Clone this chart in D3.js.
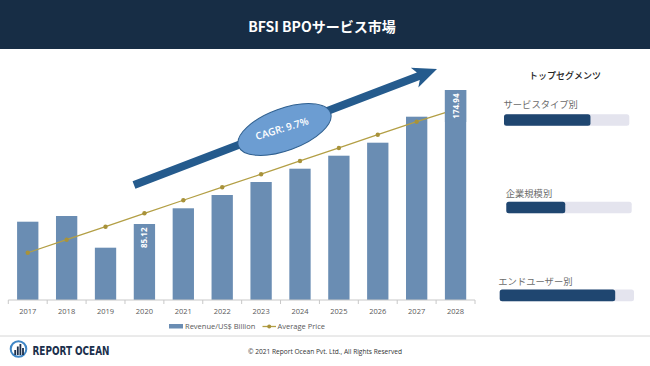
<!DOCTYPE html>
<html><head><meta charset="utf-8">
<script src="https://cdn.jsdelivr.net/npm/d3@7"></script>
<style>html,body{margin:0;padding:0;background:#fff;}svg{display:block;}</style>
</head><body>
<script>
// ---- data ----
const years = ['2017','2018','2019','2020','2021','2022','2023','2024','2025','2026','2027','2028'];
const revenue = [86.66, 90.48, 69.24, 85.12, 95.65, 104.56, 113.27, 122.19, 130.9, 139.62, 157.04, 174.94];
const avgPrice = [22.5, 28.7, 34.9, 41.3, 47.5, 53.7, 59.9, 66.2, 72.4, 78.7, 84.9, 90.8];
const labeledYears = ['2020', '2028'];
const legendLabels = ['Revenue/US$ Billion', 'Average Price'];
const segments = ['サービスタイプ別', '企業規模別', 'エンドユーザー別'];
const segmentShare = [0.69, 0.47, 0.86];
const titleText = 'BFSI BPOサービス市場';
const cagrText = 'CAGR: 9.7%';
const segTitle = 'トップセグメンツ';
const footerText = '© 2021 Report Ocean Pvt. Ltd., All Rights Reserved';
const brandText = 'REPORT OCEAN';

const W = 650, H = 366;
const svg = d3.select('body').append('svg').attr('width', W).attr('height', H);
const sans = "'Open Sans','Liberation Sans',sans-serif";
const cjk = "'Noto Sans CJK JP','Noto Sans',sans-serif";

// header
svg.append('rect').attr('x',0).attr('y',0).attr('width',W).attr('height',49).attr('fill','#172d45');
svg.append('text').attr('x',322).attr('y',32).attr('text-anchor','middle')
  .attr('fill','#fff').attr('font-family',cjk).attr('font-weight','bold').attr('font-size',14).text(titleText);

// scales
const x = d3.scaleBand().domain(years).range([8.3, 475]).paddingInner(0.452).paddingOuter(0.226);
const y = d3.scaleLinear().domain([34.18, 174.94]).range([300, 90]);
const yP = d3.scaleLinear().domain([0, 100]).range([300, 90]);

// bars
svg.append('g').selectAll('rect').data(years).join('rect')
  .attr('x', d => x(d)).attr('width', x.bandwidth())
  .attr('y', (d,i) => y(revenue[i])).attr('height', (d,i) => 300 - y(revenue[i]))
  .attr('fill', '#6a8db3');

// x axis
const axis = svg.append('g').attr('transform','translate(0,300)');
axis.append('line').attr('x1',8.3).attr('x2',475).attr('y1',0).attr('y2',0).attr('stroke','#c8c8c8');
const bounds = d3.range(years.length+1).map(i => 8.3 + i*x.step());
axis.selectAll('line.tk').data(bounds).join('line').attr('class','tk')
  .attr('x1', d=>d).attr('x2', d=>d).attr('y1',0).attr('y2',4).attr('stroke','#c8c8c8');
axis.selectAll('text').data(years).join('text')
  .attr('x', d => x(d)+x.bandwidth()/2).attr('y', 13.5).attr('text-anchor','middle')
  .attr('fill','#595959').attr('font-family',sans).attr('font-size',7.5).text(d=>d);

// arrow
const ax0 = 134, ay0 = 185, ax1 = 437, ay1 = 69;
const ang = Math.atan2(ay1-ay0, ax1-ax0)*180/Math.PI;
const L = Math.hypot(ax1-ax0, ay1-ay0);
svg.append('path').attr('transform',`translate(${ax0},${ay0}) rotate(${ang})`)
  .attr('d', `M0,-4 L${L-20},-4 L${L-24},-10.5 L${L},0 L${L-24},10.5 L${L-20},4 L0,4 Z`)
  .attr('fill','#255b8d');

// ellipse
svg.append('ellipse').attr('transform','translate(284.5,129.5) rotate(-20)')
  .attr('rx',49).attr('ry',21).attr('fill','#6c9dd2').attr('stroke','#2e5f8f').attr('stroke-width',1);
svg.append('text').attr('transform','translate(283,132) rotate(-17)').attr('text-anchor','middle')
  .attr('fill','#fff').attr('font-family',sans).attr('font-weight',600).attr('font-size',10).text(cagrText);

// line
const line = d3.line().x((d,i)=>x(years[i])+x.bandwidth()/2).y(d=>yP(d));
svg.append('path').datum(avgPrice).attr('d',line).attr('fill','none').attr('stroke','#b39f45').attr('stroke-width',1.3);
svg.append('g').selectAll('circle').data(avgPrice).join('circle')
  .attr('cx',(d,i)=>x(years[i])+x.bandwidth()/2).attr('cy',d=>yP(d)).attr('r',2.2).attr('fill','#a8923a');

// value labels (drawn on top)
const lblG = svg.append('g');
lblG.selectAll('rect').data(years.filter(d => labeledYears.includes(d) && d === '2028')).join('rect')
  .attr('x', d => x(d)).attr('width', x.bandwidth())
  .attr('y', d => y(revenue[years.indexOf(d)])).attr('height', 32).attr('fill','#6a8db3');
lblG.selectAll('text').data(years.filter(d => labeledYears.includes(d))).join('text')
  .attr('transform', d => { const i = years.indexOf(d); return `translate(${x(d)+x.bandwidth()/2+3},${y(revenue[i])+3.5}) rotate(-90)`; })
  .attr('text-anchor','end').attr('fill','#fff').attr('font-family',sans).attr('font-weight','bold').attr('font-size',8)
  .text(d => revenue[years.indexOf(d)].toFixed(2));

// legend
const lg = svg.append('g');
lg.append('rect').attr('x',169).attr('y',324).attr('width',14).attr('height',4.5).attr('fill','#6a8db3');
lg.append('text').attr('x',185).attr('y',329).attr('fill','#595959').attr('font-family',sans).attr('font-size',7.5).text(legendLabels[0]);
lg.append('line').attr('x1',262.5).attr('x2',276).attr('y1',326.5).attr('y2',326.5).attr('stroke','#b39f45').attr('stroke-width',1.3);
lg.append('circle').attr('cx',269.2).attr('cy',326.5).attr('r',2).attr('fill','#a8923a');
lg.append('text').attr('x',277.5).attr('y',329).attr('fill','#595959').attr('font-family',sans).attr('font-size',7.5).text(legendLabels[1]);

// right panel
svg.append('text').attr('x',565).attr('y',78.5).attr('text-anchor','middle').attr('fill','#222')
  .attr('font-family',cjk).attr('font-weight',500).attr('font-size',9).text(segTitle);
const segPos = [
  {lx:503.5, ly:108, bx:504, by:114.3, bw:125.3, bh:11.4},
  {lx:505.7, ly:197, bx:506.3, by:201.7, bw:125.4, bh:11.6},
  {lx:498.3, ly:284.5, bx:499.7, by:289.5, bw:134.3, bh:11.8}
];
const sx = d3.scaleLinear().domain([0,1]);
const sg = svg.append('g').selectAll('g').data(segments).join('g');
sg.append('text').attr('x',(d,i)=>segPos[i].lx).attr('y',(d,i)=>segPos[i].ly)
  .attr('fill','#6b6b6b').attr('font-family',cjk).attr('font-size',9.3).text(d=>d);
sg.append('rect').attr('x',(d,i)=>segPos[i].bx).attr('y',(d,i)=>segPos[i].by)
  .attr('width',(d,i)=>segPos[i].bw).attr('height',(d,i)=>segPos[i].bh).attr('rx',2.5).attr('fill','#e4e4ee');
sg.append('rect').attr('x',(d,i)=>segPos[i].bx).attr('y',(d,i)=>segPos[i].by)
  .attr('width',(d,i)=>sx.range([0,segPos[i].bw])(segmentShare[i])).attr('height',(d,i)=>segPos[i].bh).attr('rx',2.5).attr('fill','#1f4670');

// footer
svg.append('line').attr('x1',0).attr('x2',W).attr('y1',336).attr('y2',336).attr('stroke','#d6d6d6');
const logo = svg.append('g').attr('transform','translate(18.5,349)');
logo.append('circle').attr('r',7.8).attr('fill','none').attr('stroke','#3f86c6').attr('stroke-width',2);
[[-4.2,1,5],[-1.6,-2.5,8.5],[1,-5,11],[3.6,-1,7]].forEach(b=>{
  logo.append('rect').attr('x',b[0]).attr('y',b[1]).attr('width',1.8).attr('height',b[2]).attr('fill','#1b2f4c');
});
svg.append('text').attr('x',32.5).attr('y',355).attr('fill','#1b2f4c').attr('font-family',"'DejaVu Sans Condensed','DejaVu Sans',sans-serif")
  .attr('font-weight','bold').attr('font-size',11.5).attr('textLength',77).attr('lengthAdjust','spacingAndGlyphs').text(brandText);
svg.append('text').attr('x',325).attr('y',353.5).attr('text-anchor','middle').attr('fill','#333')
  .attr('font-family',sans).attr('font-size',6.6).text(footerText);
</script>
</body></html>
